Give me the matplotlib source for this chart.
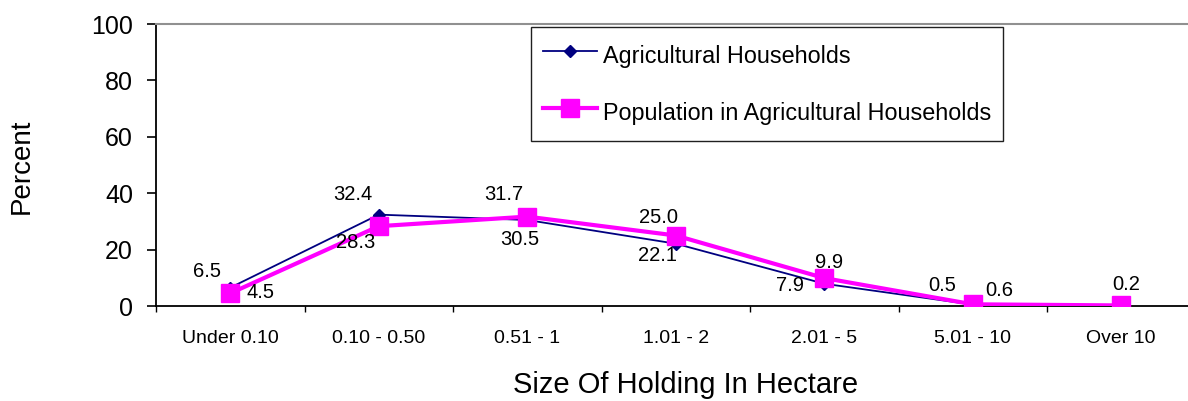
import matplotlib
matplotlib.use("Agg")
import matplotlib.pyplot as plt
from matplotlib.ticker import FixedLocator

categories = ["Under 0.10", "0.10 - 0.50", "0.51 - 1", "1.01 - 2", "2.01 - 5", "5.01 - 10", "Over 10"]
agri_households = [6.5, 32.4, 30.5, 22.1, 7.9, 0.5, 0.2]
population = [4.5, 28.3, 31.7, 25.0, 9.9, 0.6, 0.2]
agri_labels = ["6.5", "32.4", "30.5", "22.1", "7.9", "0.5", None]
pop_labels = ["4.5", "28.3", "31.7", "25.0", "9.9", "0.6", "0.2"]
yticks = [0, 20, 40, 60, 80, 100]

# label offsets in pixels (dx, dy upward)
agri_off = [(-23, 16), (-26, 20), (-7, -20), (-18, -12), (-34, -2), (-31, 19), (0, 0)]
pop_off = [(30, 1), (-23, -16), (-23, 22), (-17, 18), (5, 16), (27, 14), (5, 21)]

plt.rcParams['font.family'] = ['Liberation Sans', 'DejaVu Sans']

W, H = 1188, 401
fig = plt.figure(figsize=(W / 100, H / 100), dpi=100)
ax = fig.add_axes([156 / W, 1 - 306 / H, 1 - 156 / W, (306 - 24) / H])

x = list(range(len(categories)))
ax.plot(x, agri_households, color="#000080", lw=1.3, marker="D", ms=6.5,
        mfc="#000080", mec="#000080", label="Agricultural Households", zorder=3)
ax.plot(x, population, color="#FF00FF", lw=3, marker="s", ms=13.5,
        mfc="#FF00FF", mec="#FF00FF", label="Population in Agricultural Households", zorder=4)

for xi, v, lab, off in zip(x, agri_households, agri_labels, agri_off):
    if lab:
        ax.annotate(lab, (xi, v), xytext=off, textcoords="offset pixels",
                    ha="center", va="center", fontsize=14.5, color="black", zorder=5)
for xi, v, lab, off in zip(x, population, pop_labels, pop_off):
    if lab:
        ax.annotate(lab, (xi, v), xytext=off, textcoords="offset pixels",
                    ha="center", va="center", fontsize=14.5, color="black", zorder=5)

ncat = len(categories)
ax.set_xlim(-0.5, -0.5 + (W - 156) / 148.5)
ax.set_ylim(0, 100)
ax.set_yticks(yticks)
ax.set_yticklabels([str(t) for t in yticks], fontsize=18)
ax.tick_params(axis="y", direction="out", length=6.5, width=1.2, pad=10, color="black")

ax.set_xticks(x)
ax.set_xticklabels(categories, fontsize=14)
ax.xaxis.set_minor_locator(FixedLocator([i - 0.5 for i in range(ncat + 1)]))
ax.tick_params(axis="x", which="major", length=0, pad=17)
ax.tick_params(axis="x", which="minor", length=4, width=1.0, direction="out", color="black")

for s in ["left", "bottom"]:
    ax.spines[s].set_color("black")
    ax.spines[s].set_linewidth(1.3)
ax.spines["right"].set_visible(False)
ax.spines["top"].set_color("#909090")
ax.spines["top"].set_linewidth(1.5)

fig.text(22 / W, 1 - 166 / H, "Percent", rotation=90, ha="center", va="center", fontsize=20)
fig.text(686 / W, 1 - 385 / H, "Size Of Holding In Hectare", ha="center", va="center", fontsize=21)

leg = ax.legend(loc="upper left", bbox_to_anchor=(531 / W, 1 - 27 / H),
                bbox_transform=fig.transFigure, borderaxespad=0, fontsize=16.8,
                frameon=True, fancybox=False, shadow=False, handlelength=2.33,
                handleheight=1.85, handletextpad=0.26, borderpad=0.5, labelspacing=1.0)
leg.get_frame().set_edgecolor("#202020")
leg.get_frame().set_linewidth(1.0)
leg.get_frame().set_alpha(None)
leg.get_frame().set_facecolor("white")

fig.savefig("out.png", dpi=100)
